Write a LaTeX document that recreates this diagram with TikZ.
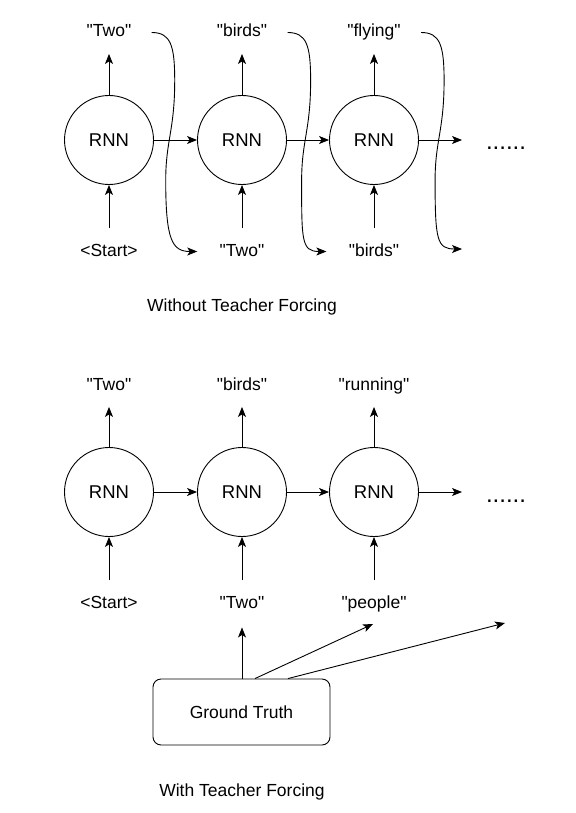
\documentclass[tikz,border=0pt]{standalone}
\usepackage{fontspec}
\setmainfont{Liberation Sans}[Ligatures=TeXOff]
\usetikzlibrary{arrows.meta}

\begin{document}
\begin{tikzpicture}[x=1pt,y=-1pt,line width=0.9pt,
    >={Stealth[length=10pt,width=8pt,inset=2.5pt]},
    rnn/.style={draw,circle,minimum size=89pt,inner sep=0pt,font=\fontsize{18.5}{21}\selectfont},
    word/.style={anchor=base,inner sep=0pt,text height=12.5pt,text depth=3.5pt,font=\fontsize{17.5}{21}\selectfont},
    dots/.style={anchor=base,inner sep=0pt,font=\fontsize{24}{26}\selectfont},
    outarrow/.style={->,shorten >=13pt},
    inarrow/.style={->,shorten <=15pt}]
    \useasboundingbox (0,0) rectangle (575,813);

    % without teacher forcing
    \node[rnn] (rnn_1) at (109,140) {RNN};
    \node[rnn] (rnn_2) at (242,140) {RNN};
    \node[rnn] (rnn_3) at (374,140) {RNN};
    \node[word] (out_1) at (109,37) {"Two"};
    \node[word] (out_2) at (242,37) {"birds"};
    \node[word] (out_3) at (374,37) {"flying"};
    \node[word] (in_1) at (109,256) {<Start>};
    \node[word] (in_2) at (242,256) {"Two"};
    \node[word] (in_3) at (374,256) {"birds"};
    \coordinate (next_1) at (462,140);
    \coordinate (next_in) at (462,249);
    \node[dots] (more_1) at (506,150) {......};
    \node[word] (title_1) at (242,311) {Without Teacher Forcing};

    \draw[outarrow] (rnn_1) -- (out_1);
    \draw[outarrow] (rnn_2) -- (out_2);
    \draw[outarrow] (rnn_3) -- (out_3);
    \draw[inarrow] (in_1) -- (rnn_1);
    \draw[inarrow] (in_2) -- (rnn_2);
    \draw[inarrow] (in_3) -- (rnn_3);
    \draw[->] (rnn_1) -- (rnn_2);
    \draw[->] (rnn_2) -- (rnn_3);
    \draw[->] (rnn_3) -- (next_1);

    \draw[->] ([xshift=20pt]out_1.east) .. controls +(19,0) and +(0,-35) .. ++(23,48)
        .. controls +(0,50) and +(0,-40) .. ++(-9,100)
        .. controls +(0,60) and +(-25,0) .. ([xshift=-22pt]in_2.west);
    \draw[->] ([xshift=20pt]out_2.east) .. controls +(19,0) and +(0,-35) .. ++(23,48)
        .. controls +(0,50) and +(0,-40) .. ++(-9,100)
        .. controls +(0,60) and +(-25,0) .. ([xshift=-22pt]in_3.west);
    \draw[->] ([xshift=20pt]out_3.east) .. controls +(19,0) and +(0,-35) .. ++(23,48)
        .. controls +(0,50) and +(0,-40) .. ++(-9,100)
        .. controls +(0,60) and +(-25,0) .. (next_in);

    % with teacher forcing
    \node[rnn] (rnn_4) at (109,492) {RNN};
    \node[rnn] (rnn_5) at (242,492) {RNN};
    \node[rnn] (rnn_6) at (374,492) {RNN};
    \node[word] (out_4) at (109,390) {"Two"};
    \node[word] (out_5) at (242,390) {"birds"};
    \node[word] (out_6) at (374,390) {"running"};
    \node[word] (in_4) at (109,608) {<Start>};
    \node[word] (in_5) at (242,608) {"Two"};
    \node[word] (in_6) at (374,608) {"people"};
    \coordinate (next_2) at (462,492);
    \node[dots] (more_2) at (506,502) {......};
    \node[draw,rounded corners=8pt,minimum width=177pt,minimum height=66pt,
        font=\fontsize{17.5}{21}\selectfont] (truth) at (241.5,712) {Ground Truth};
    \coordinate (truth_2) at (373,624);
    \coordinate (truth_3) at (505,623);
    \node[word] (title_2) at (242,796) {With Teacher Forcing};

    \draw[outarrow] (rnn_4) -- (out_4);
    \draw[outarrow] (rnn_5) -- (out_5);
    \draw[outarrow] (rnn_6) -- (out_6);
    \draw[inarrow] (in_4) -- (rnn_4);
    \draw[inarrow] (in_5) -- (rnn_5);
    \draw[inarrow] (in_6) -- (rnn_6);
    \draw[->] (rnn_4) -- (rnn_5);
    \draw[->] (rnn_5) -- (rnn_6);
    \draw[->] (rnn_6) -- (next_2);

    \draw[->,shorten >=15.5pt] ([xshift=0.5pt]truth.north) -- (in_5);
    \draw[->] ([xshift=13.5pt]truth.north) -- (truth_2);
    \draw[->] ([xshift=46.5pt]truth.north) -- (truth_3);
\end{tikzpicture}
\end{document}
